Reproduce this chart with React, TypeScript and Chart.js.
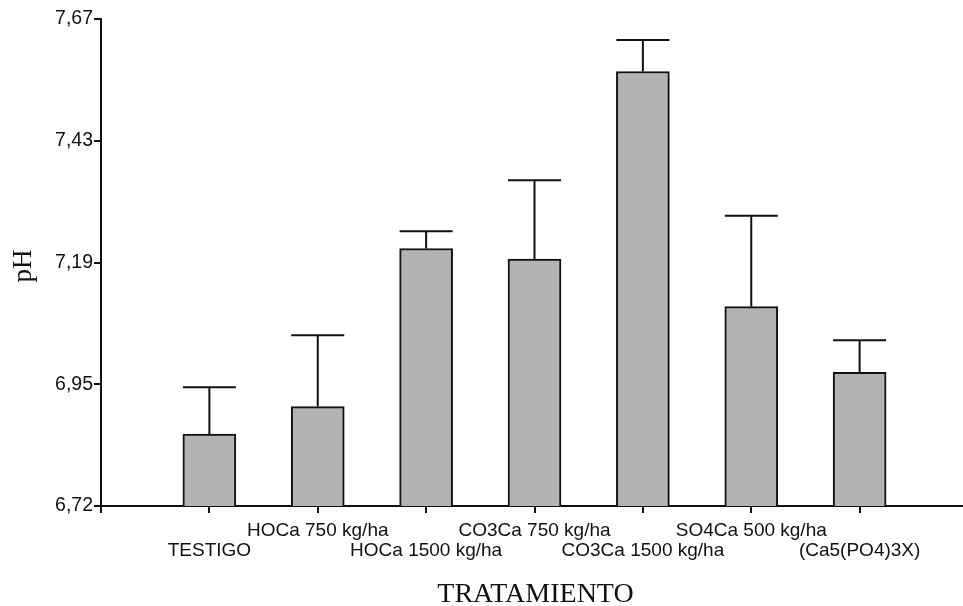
import React, { useEffect, useRef } from "react";
import { Chart, registerables } from "chart.js";
Chart.register(...registerables);

const categories = [
  "TESTIGO",
  "HOCa 750 kg/ha",
  "HOCa 1500 kg/ha",
  "CO3Ca 750 kg/ha",
  "CO3Ca 1500 kg/ha",
  "SO4Ca 500 kg/ha",
  "(Ca5(PO4)3X)",
];
const meanPH = [6.856, 6.91, 7.22, 7.199, 7.567, 7.106, 6.977];
const errorPH = [0.092, 0.14, 0.034, 0.155, 0.062, 0.178, 0.063];
const yTickValues = [6.715, 6.95375, 7.1925, 7.43125, 7.67];
const yTickLabels = ["6,72", "6,95", "7,19", "7,43", "7,67"];
const xTitle = "TRATAMIENTO";
const yTitle = "pH";

const SANS = "'Liberation Sans', Arial, sans-serif";
const SERIF = "'Liberation Serif', 'Times New Roman', serif";
const INK = "#111111";

export default function App() {
  const ref = useRef<HTMLCanvasElement | null>(null);

  useEffect(() => {
    if (!ref.current) return;
    // padded category axis: empty slot on each side, labels staggered on two rows
    const labels: (string | string[])[] = [
      "",
      ...categories.map((c, i) => (i % 2 === 0 ? ["", c] : [c, ""])),
      "",
    ];
    const values: (number | null)[] = [null, ...meanPH, null];
    const errs: (number | null)[] = [null, ...errorPH, null];

    const errorBarPlugin = {
      id: "errorBars",
      afterDatasetsDraw(chart: any) {
        const meta = chart.getDatasetMeta(0);
        const ys = chart.scales.y;
        const ctx = chart.ctx;
        ctx.save();
        ctx.strokeStyle = INK;
        ctx.lineWidth = 2;
        meta.data.forEach((bar: any, i: number) => {
          const v = values[i];
          const e = errs[i];
          if (v == null || e == null) return;
          const { x, y, width } = bar.getProps(["x", "y", "width"], true);
          const top = ys.getPixelForValue(v + e);
          ctx.beginPath();
          ctx.moveTo(x, y);
          ctx.lineTo(x, top);
          ctx.moveTo(x - width / 2, top);
          ctx.lineTo(x + width / 2, top);
          ctx.stroke();
        });
        ctx.restore();
      },
    };

    const axisTitlePlugin = {
      id: "axisTitles",
      afterDraw(chart: any) {
        const ctx = chart.ctx;
        const area = chart.chartArea;
        ctx.save();
        ctx.fillStyle = INK;
        ctx.textAlign = "center";
        ctx.textBaseline = "alphabetic";
        ctx.font = `28px ${SERIF}`;
        ctx.fillText(xTitle, (area.left + area.right) / 2 + 1, 602);
        ctx.font = `27px ${SERIF}`;
        ctx.translate(31, 266);
        ctx.rotate(-Math.PI / 2);
        ctx.fillText(yTitle, 0, 0);
        ctx.restore();
      },
    };

    const chart = new Chart(ref.current, {
      type: "bar",
      data: {
        labels,
        datasets: [
          {
            data: values,
            backgroundColor: "#b3b3b3",
            borderColor: INK,
            borderWidth: 2,
            borderSkipped: false,
            barThickness: 53,
          },
        ],
      },
      options: {
        animation: false,
        responsive: false,
        layout: { padding: { top: 19, right: 0, left: 0, bottom: 0 } },
        plugins: {
          legend: { display: false },
          tooltip: { enabled: false },
        },
        scales: {
          x: {
            offset: false,
            grid: {
              offset: false,
              drawOnChartArea: false,
              drawTicks: true,
              tickLength: 7,
              color: INK,
              lineWidth: 2,
            },
            border: { display: true, color: INK, width: 2 },
            ticks: {
              autoSkip: false,
              maxRotation: 0,
              minRotation: 0,
              padding: 8,
              color: INK,
              font: { family: SANS, size: 19, lineHeight: 1.03 },
            },
            afterFit(scale: any) {
              scale.height = 100;
            },
          },
          y: {
            min: 6.715,
            max: 7.67,
            afterBuildTicks(scale: any) {
              scale.ticks = yTickValues.map((v) => ({ value: v }));
            },
            grid: {
              drawOnChartArea: false,
              drawTicks: true,
              tickLength: 7,
              color: INK,
              lineWidth: 2,
            },
            border: { display: true, color: INK, width: 2 },
            ticks: {
              padding: 1,
              color: INK,
              font: { family: SANS, size: 19.5 },
              callback: (_v: any, i: number) => yTickLabels[i],
            },
            afterFit(scale: any) {
              scale.width = 101;
            },
          },
        },
      },
      plugins: [errorBarPlugin, axisTitlePlugin],
    });
    return () => chart.destroy();
  }, []);

  return (
    <div
      style={{
        position: "absolute",
        left: 0,
        top: 0,
        width: 963,
        height: 606,
        overflow: "hidden",
        background: "#fff",
      }}
    >
      <canvas ref={ref} width={976} height={606} style={{ display: "block" }} />
    </div>
  );
}
